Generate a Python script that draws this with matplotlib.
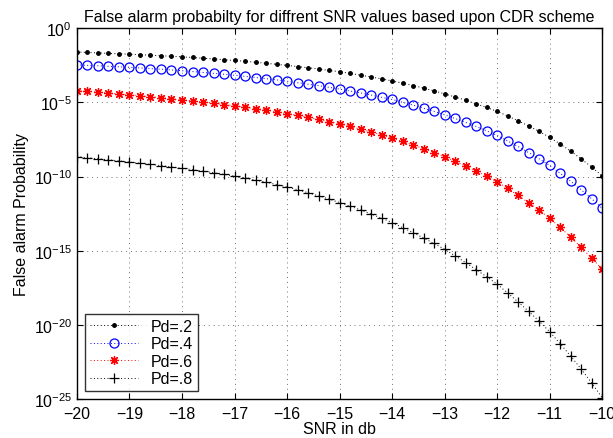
import matplotlib
matplotlib.use('Agg')
import matplotlib.pyplot as plt
import numpy as np

plt.rcParams['font.family'] = ['Liberation Sans', 'DejaVu Sans']
plt.rcParams['mathtext.fontset'] = 'custom'
plt.rcParams['mathtext.rm'] = 'Liberation Sans'

# SNR in dB, -20 to -10 in 0.2 steps
snr = [-20.0, -19.8, -19.6, -19.4, -19.2, -19.0, -18.8, -18.6, -18.4, -18.2,
       -18.0, -17.8, -17.6, -17.4, -17.2, -17.0, -16.8, -16.6, -16.4, -16.2,
       -16.0, -15.8, -15.6, -15.4, -15.2, -15.0, -14.8, -14.6, -14.4, -14.2,
       -14.0, -13.8, -13.6, -13.4, -13.2, -13.0, -12.8, -12.6, -12.4, -12.2,
       -12.0, -11.8, -11.6, -11.4, -11.2, -11.0, -10.8, -10.6, -10.4, -10.2,
       -10.0]

# exponents (log10 of false alarm probability)
exp_pd2 = [-1.60, -1.63, -1.66, -1.69, -1.72, -1.75, -1.78, -1.82, -1.85, -1.89,
           -1.93, -1.97, -2.02, -2.07, -2.12, -2.17, -2.23, -2.29, -2.36, -2.43,
           -2.50, -2.58, -2.66, -2.75, -2.84, -2.93, -3.04, -3.16, -3.28, -3.41,
           -3.55, -3.70, -3.86, -4.03, -4.22, -4.42, -4.63, -4.85, -5.09, -5.34,
           -5.60, -5.91, -6.24, -6.58, -6.95, -7.35, -7.80, -8.28, -8.80, -9.35,
           -9.95]
exp_pd4 = [-2.47, -2.50, -2.53, -2.56, -2.60, -2.63, -2.67, -2.72, -2.76, -2.81,
           -2.86, -2.92, -2.98, -3.04, -3.10, -3.17, -3.24, -3.32, -3.40, -3.48,
           -3.57, -3.67, -3.77, -3.87, -3.98, -4.10, -4.23, -4.36, -4.50, -4.65,
           -4.80, -4.99, -5.18, -5.39, -5.60, -5.83, -6.08, -6.34, -6.62, -6.91,
           -7.22, -7.59, -7.97, -8.38, -8.80, -9.25, -9.77, -10.31, -10.88, -11.49,
           -12.13]
exp_pd6 = [-4.20, -4.25, -4.31, -4.36, -4.42, -4.48, -4.55, -4.62, -4.68, -4.75,
           -4.83, -4.90, -4.98, -5.06, -5.14, -5.22, -5.32, -5.42, -5.52, -5.63,
           -5.75, -5.88, -6.01, -6.15, -6.30, -6.45, -6.62, -6.80, -6.99, -7.19,
           -7.40, -7.63, -7.87, -8.12, -8.38, -8.65, -8.96, -9.28, -9.62, -9.98,
           -10.35, -10.80, -11.27, -11.76, -12.27, -12.80, -13.42, -14.07, -14.76, -15.48,
           -16.23]
exp_pd8 = [-8.66, -8.73, -8.80, -8.87, -8.94, -9.02, -9.10, -9.18, -9.26, -9.35,
           -9.44, -9.54, -9.64, -9.74, -9.85, -9.97, -10.10, -10.24, -10.38, -10.54,
           -10.70, -10.89, -11.09, -11.30, -11.52, -11.75, -11.99, -12.25, -12.52, -12.80,
           -13.10, -13.44, -13.78, -14.14, -14.51, -14.90, -15.34, -15.80, -16.27, -16.75,
           -17.25, -17.84, -18.45, -19.08, -19.75, -20.45, -21.26, -22.09, -22.97, -23.90,
           -24.90]

labels = ['Pd=.2', 'Pd=.4', 'Pd=.6', 'Pd=.8']
xticks = [-20, -19, -18, -17, -16, -15, -14, -13, -12, -11, -10]
yticks = [1e-25, 1e-20, 1e-15, 1e-10, 1e-5, 1e0]

fig = plt.figure(figsize=(6.13, 4.39), dpi=100)
ax = fig.add_axes([0.1256, 0.0888, 0.8565, 0.8445])

dots = (0, (1, 2.5))
ax.semilogy(snr, 10 ** np.array(exp_pd2), color='k', linestyle=dots, marker='.',
            markersize=5, linewidth=0.7, label=labels[0])
ax.semilogy(snr, 10 ** np.array(exp_pd4), color='b', linestyle=dots, marker='o',
            markersize=6.5, markerfacecolor='none', markeredgewidth=0.9,
            linewidth=0.7, label=labels[1])
ax.semilogy(snr, 10 ** np.array(exp_pd6), color='r', linestyle=dots, marker=(8, 2, 0),
            markersize=6.5, markeredgewidth=0.9, linewidth=0.7, label=labels[2])
ax.semilogy(snr, 10 ** np.array(exp_pd8), color='k', linestyle=dots, marker='+',
            markersize=7, markeredgewidth=0.9, linewidth=0.7, label=labels[3])

# Graphing
ax.set_xlim(-20, -10)
ax.set_ylim(1e-25, 1)
ax.set_xticks(xticks)
ax.set_xticklabels([str(t).replace('-', '\u2212') for t in xticks])
ax.set_yticks(yticks)
ax.minorticks_off()
ax.tick_params(direction='in', top=True, right=True, labelsize=11.5, length=4)
ax.tick_params(axis='x', pad=5)
ax.grid(True, linestyle=(0, (1, 4)), color='0.45', linewidth=0.7)
for s in ax.spines.values():
    s.set_linewidth(1.0)

ax.set_title('False alarm probabilty for diffrent SNR values based upon CDR scheme',
             fontsize=11.5, pad=5)
ax.set_xlabel('SNR in db', fontsize=11.5, labelpad=0)
ax.set_ylabel('False alarm Probability', fontsize=11.5, labelpad=3)

leg = ax.legend(loc='lower left', fancybox=False, edgecolor='k', fontsize=11.5,
                borderaxespad=0.5, handlelength=3.0, labelspacing=0.15,
                borderpad=0.3)
leg.get_frame().set_linewidth(1.0)

plt.savefig('out.png', dpi=100)
